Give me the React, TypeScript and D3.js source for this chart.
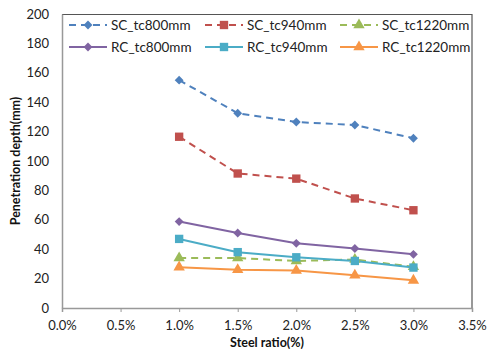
import React, { useRef, useEffect } from "react";
import * as d3 from "d3";

const W = 487;
const H = 349;
const MARGIN = { top: 14, right: 15, bottom: 41, left: 62 };

const steelRatio = [1.0, 1.5, 2.0, 2.5, 3.0];
const xTicks = [0, 0.5, 1.0, 1.5, 2.0, 2.5, 3.0, 3.5];
const yTicks = [0, 20, 40, 60, 80, 100, 120, 140, 160, 180, 200];

const scTc800 = [155, 132.5, 126.5, 124.5, 115.5];
const scTc940 = [116.5, 91.5, 88, 74.5, 66.5];
const scTc1220 = [34, 34, 32, 33, 28];
const rcTc800 = [58.8, 51, 44, 40.5, 36.5];
const rcTc940 = [47, 38, 34.5, 32, 27.5];
const rcTc1220 = [27.8, 26, 25.5, 22.3, 18.8];

type Series = {
  name: string;
  values: number[];
  color: string;
  dashed: boolean;
  marker: "diamond" | "square" | "triangle";
};

const series: Series[] = [
  { name: "SC_tc800mm", values: scTc800, color: "#4F81BD", dashed: true, marker: "diamond" },
  { name: "SC_tc940mm", values: scTc940, color: "#C0504D", dashed: true, marker: "square" },
  { name: "SC_tc1220mm", values: scTc1220, color: "#9BBB59", dashed: true, marker: "triangle" },
  { name: "RC_tc800mm", values: rcTc800, color: "#8064A2", dashed: false, marker: "diamond" },
  { name: "RC_tc940mm", values: rcTc940, color: "#4BACC6", dashed: false, marker: "square" },
  { name: "RC_tc1220mm", values: rcTc1220, color: "#F79646", dashed: false, marker: "triangle" },
];

const FONT = "Lato, 'Liberation Sans', sans-serif";

function markerPath(kind: Series["marker"]) {
  if (kind === "diamond") return d3.symbol(d3.symbolDiamond2, 50)();
  if (kind === "square") return d3.symbol(d3.symbolSquare, 70)();
  return d3.symbol(d3.symbolTriangle, 56)();
}

export default function App() {
  const svgRef = useRef<SVGSVGElement>(null);

  useEffect(() => {
    const svg = d3.select(svgRef.current);
    svg.selectAll("*").remove();

    const innerW = W - MARGIN.left - MARGIN.right;
    const innerH = H - MARGIN.top - MARGIN.bottom;

    const x = d3.scaleLinear().domain([0, 3.5]).range([0, innerW]);
    const y = d3.scaleLinear().domain([0, 200]).range([innerH, 0]);

    const g = svg
      .append("g")
      .attr("transform", `translate(${MARGIN.left},${MARGIN.top})`);

    // plot frame: top and right dark, axes gray
    g.append("line")
      .attr("x1", 0).attr("x2", innerW).attr("y1", 0.5).attr("y2", 0.5)
      .attr("stroke", "#555").attr("stroke-width", 1.2);
    g.append("line")
      .attr("x1", innerW).attr("x2", innerW).attr("y1", 0).attr("y2", innerH)
      .attr("stroke", "#555").attr("stroke-width", 1.2);

    // X axis
    const xAxis = g
      .append("g")
      .attr("transform", `translate(0,${innerH})`)
      .call(
        d3.axisBottom(x)
          .tickValues(xTicks)
          .tickSize(4)
          .tickPadding(9)
          .tickFormat((v) => `${(+v).toFixed(1)}%`)
      );
    xAxis.select(".domain").attr("stroke", "#999").attr("stroke-width", 1.5);
    xAxis.selectAll("line").attr("stroke", "#999");
    xAxis.selectAll("text")
      .attr("font-family", FONT).attr("font-size", 13).attr("fill", "#222");

    // Y axis
    const yAxis = g
      .append("g")
      .call(d3.axisLeft(y).tickValues(yTicks).tickSize(0).tickPadding(13));
    yAxis.select(".domain").attr("stroke", "#999").attr("stroke-width", 1.5);
    yAxis.selectAll("text")
      .attr("font-family", FONT).attr("font-size", 13).attr("fill", "#222");

    // series
    const line = d3
      .line<number>()
      .x((_, i) => x(steelRatio[i]))
      .y((d) => y(d));

    series.forEach((s) => {
      g.append("path")
        .datum(s.values)
        .attr("d", line)
        .attr("fill", "none")
        .attr("stroke", s.color)
        .attr("stroke-width", 2)
        .attr("stroke-dasharray", s.dashed ? "7,5" : null);
    });
    series.forEach((s) => {
      g.selectAll(null)
        .data(s.values)
        .join("path")
        .attr("d", markerPath(s.marker))
        .attr("transform", (d, i) => `translate(${x(steelRatio[i])},${y(d)})`)
        .attr("fill", s.color);
    });

    // legend
    const legendCols = [69, 205, 340];
    const legendRows = [25, 47];
    series.forEach((s, i) => {
      const lx = legendCols[i % 3];
      const ly = legendRows[Math.floor(i / 3)];
      const lg = svg.append("g").attr("transform", `translate(${lx},${ly})`);
      lg.append("line")
        .attr("x1", 0).attr("x2", 38).attr("y1", 0).attr("y2", 0)
        .attr("stroke", s.color).attr("stroke-width", 2)
        .attr("stroke-dasharray", s.dashed ? "7,5" : null);
      lg.append("path")
        .attr("d", markerPath(s.marker))
        .attr("transform", "translate(19,0)")
        .attr("fill", s.color);
      lg.append("text")
        .attr("x", 42).attr("y", 0).attr("dy", "0.35em")
        .attr("font-family", FONT).attr("font-size", 13.5).attr("fill", "#222")
        .text(s.name);
    });

    // axis titles
    svg.append("text")
      .attr("x", MARGIN.left + innerW / 2)
      .attr("y", H - 2)
      .attr("text-anchor", "middle")
      .attr("font-family", FONT).attr("font-size", 12.5).attr("font-weight", "bold")
      .attr("fill", "#111")
      .text("Steel ratio(%)");
    svg.append("text")
      .attr("transform", `translate(20,${MARGIN.top + innerH / 2}) rotate(-90)`)
      .attr("text-anchor", "middle")
      .attr("font-family", FONT).attr("font-size", 12.5).attr("font-weight", "bold")
      .attr("fill", "#111")
      .text("Penetration depth(mm)");
  }, []);

  return (
    <svg
      ref={svgRef}
      width={W}
      height={H}
      style={{ display: "block", position: "absolute", left: 0, top: 0 }}
    />
  );
}
